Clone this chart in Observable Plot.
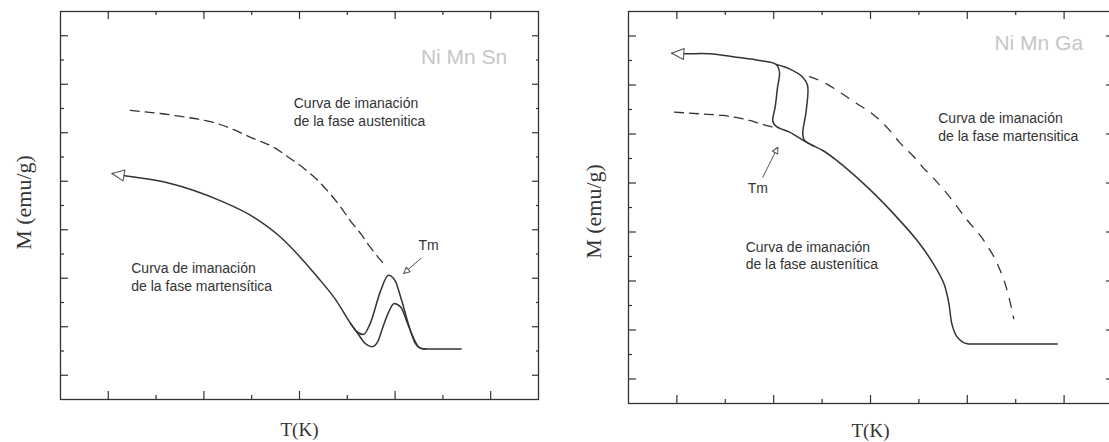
<!DOCTYPE html>
<html>
<head>
<meta charset="utf-8">
<script src="https://cdn.jsdelivr.net/npm/d3@7"></script>
<script src="https://cdn.jsdelivr.net/npm/@observablehq/plot@0.6"></script>
<style>
  html, body { margin: 0; padding: 0; background: #fff; overflow: hidden; width: 1109px; height: 442px; }
  #wrap { display: flex; width: 1120px; }
  #wrap > svg { flex: none; max-width: none; }
</style>
</head>
<body>
<div id="wrap"></div>
<script>
// ---------- shared axis values (tick labels are not printed in the figure) ----------
const xDomain = [0.5, 5.5];
const yDomain = [0.5, 8.5];
const xMajor = [1, 2, 3, 4, 5];
const xMinor = [1.5, 2.5, 3.5, 4.5];
const yMajor = [1, 2, 3, 4, 5, 6, 7, 8];
const yMinor = [1.5, 2.5, 3.5, 4.5, 5.5, 6.5, 7.5];
const xLabel = "T(K)";
const yLabel = "M (emu/g)";

// ---------- left panel: Ni Mn Sn ----------
const snTitle = "Ni Mn Sn";
// austenite magnetisation curve (dashed)
const snAustenite = [[1.23,6.46],[1.68,6.36],[2.17,6.17],[2.52,5.88],[2.73,5.70],[2.91,5.46],[3.05,5.26],[3.19,5.02],[3.32,4.74],[3.43,4.47],[3.53,4.19],[3.64,3.92],[3.74,3.64],[3.88,3.30]];
// martensite curve, upper loop branch (solid, arrow at start)
const snCurveUpper = [[1.04,5.16],[1.16,5.12],[1.62,4.97],[2.17,4.60],[2.52,4.26],[2.80,3.85],[3.01,3.43],[3.19,3.02],[3.385,2.54],[3.53,2.08],[3.60,1.90],[3.67,1.84],[3.74,2.07],[3.85,2.75],[3.93,3.06],[4.00,2.95],[4.06,2.60],[4.16,1.92],[4.21,1.66],[4.26,1.56],[4.32,1.54],[4.69,1.54]];
// martensite curve, lower loop branch (solid)
const snCurveLower = [[3.53,2.08],[3.61,1.86],[3.68,1.67],[3.76,1.59],[3.82,1.70],[3.87,1.98],[3.93,2.29],[3.99,2.48],[4.06,2.40],[4.13,2.07],[4.19,1.78],[4.24,1.60],[4.28,1.55],[4.32,1.54]];
const snTmArrow = [[4.27,3.41],[4.09,3.10]];
const snTm = [{x: 4.35, y: 3.68, text: "Tm"}];
const snNotes = [
  {x: 2.94, y: 6.60, text: "Curva de imanación"},
  {x: 2.94, y: 6.23, text: "de la fase austenitica"},
  {x: 1.24, y: 3.20, text: "Curva de imanación"},
  {x: 1.24, y: 2.83, text: "de la fase martensítica"}
];
const snTitlePos = [{x: 4.27, y: 7.56, text: snTitle}];

// ---------- right panel: Ni Mn Ga ----------
const gaTitle = "Ni Mn Ga";
// low-temperature dashed extension of the austenite curve
const gaDashedLow = [[0.975,6.445],[1.25,6.41],[1.474,6.378],[1.75,6.276],[1.887,6.194],[1.99,6.14]];
// martensite curve continued (dashed, upper right)
const gaDashedHigh = [[2.37,7.17],[2.51,7.06],[2.73,6.79],[2.85,6.63],[3.02,6.41],[3.20,6.07],[3.30,5.83],[3.45,5.53],[3.54,5.32],[3.65,5.10],[3.82,4.71],[4.00,4.24],[4.17,3.83],[4.31,3.35],[4.38,3.01],[4.43,2.67],[4.48,2.23]];
// main solid curve: arrow, left hysteresis branch, austenite curve down to the flat tail
const gaCurveMain = [[0.947,7.649],[1.071,7.637],[1.337,7.637],[1.613,7.567],[1.853,7.50],[2.026,7.418],[2.06,7.26],[2.04,6.955],[2.015,6.547],[1.991,6.261],[2.03,6.15],[2.163,6.037],[2.336,5.833],[2.507,5.663],[2.65,5.46],[2.97,4.91],[3.24,4.37],[3.48,3.83],[3.65,3.35],[3.76,2.94],[3.81,2.54],[3.84,2.13],[3.89,1.87],[3.95,1.76],[4.00,1.72],[4.08,1.716],[4.30,1.716],[4.93,1.716]];
// right hysteresis branch
const gaCurveBranch = [[2.026,7.418],[2.163,7.33],[2.30,7.16],[2.35,6.99],[2.336,6.48],[2.30,6.00],[2.318,5.867],[2.37,5.80],[2.42,5.75]];
const gaTmArrow = [[1.887,5.118],[2.042,5.73]];
const gaTm = [{x: 1.836, y: 4.888, text: "Tm"}];
const gaNotes = [
  {x: 3.70, y: 6.31, text: "Curva de imanación"},
  {x: 3.70, y: 5.95, text: "de la fase martensitica"},
  {x: 1.71, y: 3.68, text: "Curva de imanación"},
  {x: 1.71, y: 3.33, text: "de la fase austenítica"}
];
const gaTitlePos = [{x: 4.28, y: 7.86, text: gaTitle}];

// ---------- styling ----------
const SANS = "Liberation Sans, Arial, sans-serif";
const SERIF = "Liberation Serif, Times New Roman, serif";
const INK = "#333";

function openTriangle(len, half, sw, color) {
  return () => {
    const ns = "http://www.w3.org/2000/svg";
    const m = document.createElementNS(ns, "marker");
    const pad = sw + 1;
    m.setAttribute("viewBox", `${-len - pad} ${-half - pad} ${len + 2 * pad} ${2 * half + 2 * pad}`);
    m.setAttribute("markerWidth", len + 2 * pad);
    m.setAttribute("markerHeight", 2 * half + 2 * pad);
    m.setAttribute("refX", 0);
    m.setAttribute("refY", 0);
    m.setAttribute("markerUnits", "userSpaceOnUse");
    m.setAttribute("orient", "auto-start-reverse");
    m.setAttribute("overflow", "visible");
    const p = document.createElementNS(ns, "path");
    p.setAttribute("d", `M0,0L${-len},${-half}L${-len},${half}Z`);
    p.setAttribute("fill", "white");
    p.setAttribute("stroke", color);
    p.setAttribute("stroke-width", sw);
    p.setAttribute("stroke-dasharray", "none");
    m.appendChild(p);
    return m;
  };
}
const bigHead = openTriangle(12, 5.5, 1.1, "#555");
const smallHead = openTriangle(6, 3, 1, "#555");

function frameMarks() {
  const st = {fill: "none", stroke: INK, strokeWidth: 1.2};
  return [
    Plot.axisX(xMajor, {anchor: "bottom", tickSize: -8, ...st}),
    Plot.axisX(xMinor, {anchor: "bottom", tickSize: -4, ...st}),
    Plot.axisX(xMajor, {anchor: "top", tickSize: -7, ...st}),
    Plot.axisX(xMinor, {anchor: "top", tickSize: -3, ...st}),
    Plot.axisY(yMajor, {anchor: "left", tickSize: -8, ...st}),
    Plot.axisY(yMinor, {anchor: "left", tickSize: -4, ...st}),
    Plot.axisY(yMajor, {anchor: "right", tickSize: -7, ...st}),
    Plot.axisY(yMinor, {anchor: "right", tickSize: -3, ...st}),
    Plot.frame({stroke: INK, strokeWidth: 1.3})
  ];
}
const X = (d) => d[0], Y = (d) => d[1];
const solidM = {x: X, y: Y, curve: "monotone-x", stroke: INK, strokeWidth: 1.5};
const solidC = {x: X, y: Y, curve: "catmull-rom", stroke: INK, strokeWidth: 1.5};
const dashed = {x: X, y: Y, curve: "monotone-x", stroke: INK, strokeWidth: 1.3, strokeDasharray: "9,6"};
const noteStyle = {x: "x", y: "y", text: "text", textAnchor: "start", lineAnchor: "middle", fontFamily: SANS, fontSize: 14, fill: INK};

function panel(cfg) {
  return Plot.plot({
    width: cfg.width, height: 442,
    marginLeft: cfg.ml, marginRight: cfg.mr, marginTop: 11, marginBottom: cfg.mb,
    x: {domain: xDomain}, y: {domain: yDomain},
    style: {background: "white", overflow: "visible"},
    marks: [
      ...frameMarks(),
      ...cfg.marks,
      Plot.text([cfg.title[0]], {x: "x", y: "y", text: "text", textAnchor: "start", lineAnchor: "middle", fontFamily: SANS, fontSize: 21, fill: "#c6c6c6"}),
      Plot.text([yLabel], {text: (d) => d, frameAnchor: "left", textAnchor: "middle", lineAnchor: "middle", dx: cfg.ylx, dy: cfg.yly, rotate: -90, fontFamily: SERIF, fontSize: 22, fill: INK}),
      Plot.text([xLabel], {text: (d) => d, frameAnchor: "bottom", textAnchor: "middle", lineAnchor: "middle", dy: cfg.xly, fontFamily: SERIF, fontSize: 19, fill: INK})
    ]
  });
}

const left = panel({
  width: 560, ml: 60, mr: 22, mb: 43, ylx: -37, yly: -3, xly: 30, title: snTitlePos,
  marks: [
    Plot.line(snAustenite, dashed),
    Plot.line(snCurveLower, solidM),
    Plot.line(snCurveUpper, {...solidM, markerStart: bigHead}),
    Plot.line(snTmArrow, {x: X, y: Y, stroke: "#555", strokeWidth: 1, markerEnd: smallHead}),
    Plot.text(snTm, {...noteStyle, textAnchor: "middle"}),
    Plot.text(snNotes, noteStyle)
  ]
});

const right = panel({
  width: 553, ml: 68, mr: 1, mb: 39, ylx: -35, yly: 4, xly: 27, title: gaTitlePos,
  marks: [
    Plot.line(gaDashedLow, dashed),
    Plot.line(gaDashedHigh, {...dashed, strokeDasharray: "9,9"}),
    Plot.line(gaCurveBranch, solidC),
    Plot.line(gaCurveMain, {...solidC, markerStart: bigHead}),
    Plot.line(gaTmArrow, {x: X, y: Y, stroke: "#555", strokeWidth: 1, markerEnd: smallHead}),
    Plot.text(gaTm, {...noteStyle, textAnchor: "middle"}),
    Plot.text(gaNotes, noteStyle)
  ]
});

const wrap = document.getElementById("wrap");
wrap.append(left, right);
</script>
</body>
</html>
